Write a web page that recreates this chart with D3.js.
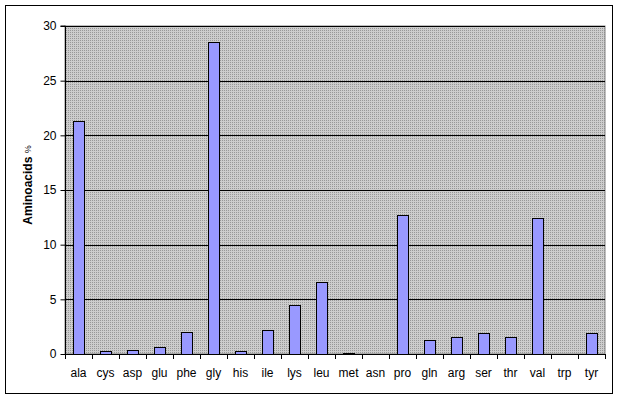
<!DOCTYPE html>
<html><head><meta charset="utf-8">
<script src="https://cdn.jsdelivr.net/npm/d3@7"></script>
<style>body{margin:0;background:#fff}svg{display:block}text{font-family:"Liberation Sans",Arial,sans-serif}</style>
</head><body>
<svg id="c" width="620" height="400"></svg>
<script>
const categories = ["ala","cys","asp","glu","phe","gly","his","ile","lys","leu","met","asn","pro","gln","arg","ser","thr","val","trp","tyr"];
const values = [21.3,0.3,0.4,0.65,2.0,28.5,0.3,2.2,4.5,6.6,0.1,0,12.7,1.3,1.55,1.95,1.55,12.45,0,1.95];
const yTicks = [0,5,10,15,20,25,30];
const yTitle = "Aminoacids %";

const svg = d3.select("#c");
const m = {l:65, t:26, r:605, b:354};
svg.append("rect").attr("x",5.5).attr("y",5.5).attr("width",607).attr("height",388)
  .attr("fill","#fff").attr("stroke","#000").attr("stroke-width",1);

const defs = svg.append("defs");
const pat = defs.append("pattern").attr("id","dots").attr("patternUnits","userSpaceOnUse")
  .attr("width",2).attr("height",2);
pat.append("rect").attr("width",2).attr("height",2).attr("fill","#cdcdcd");
pat.append("rect").attr("width",1).attr("height",1).attr("fill","#989898");

const x = d3.scaleBand().domain(categories).range([m.l,m.r]).paddingInner(0.6).paddingOuter(0.3);
const xb = d3.scaleBand().domain(categories).range([m.l,m.r]);
const y = d3.scaleLinear().domain([0,30]).range([m.b,m.t]);

svg.append("rect").attr("x",m.l).attr("y",m.t).attr("width",m.r-m.l).attr("height",m.b-m.t)
  .attr("fill","url(#dots)").attr("stroke","#808080").attr("stroke-width",1);

svg.append("g").selectAll("line").data(yTicks.filter(d=>d>0)).join("line")
  .attr("x1",m.l).attr("x2",m.r).attr("y1",d=>Math.round(y(d))+0.5).attr("y2",d=>Math.round(y(d))+0.5)
  .attr("stroke","#000").attr("stroke-width",1);

svg.append("g").selectAll("rect").data(categories).join("rect")
  .attr("x",(d)=>Math.round(xb(d)+xb.bandwidth()*0.3)+0.5)
  .attr("width",Math.round(xb.bandwidth()*0.4))
  .attr("y",(d,i)=>Math.round(y(values[i]))+0.5)
  .attr("height",(d,i)=>Math.max(0,Math.round(y(0))-Math.round(y(values[i]))))
  .attr("fill",(d,i)=>values[i]>0?"#9999ff":"none")
  .attr("stroke",(d,i)=>values[i]>0?"#000":"none").attr("stroke-width",1);

const ya = d3.axisLeft(y).tickValues(yTicks).tickSize(5).tickPadding(4).tickFormat(d3.format("d"));
const gy = svg.append("g").attr("transform",`translate(${m.l+0.5},0)`).call(ya);
gy.selectAll("text").attr("font-size",12).attr("fill","#000").attr("font-family","Liberation Sans, Arial, sans-serif");
gy.select(".domain").attr("stroke","#000").attr("d",`M-5,${m.t}H0V${m.b}`);

const xa = d3.axisBottom(xb).tickSize(0).tickPadding(14);
const gx = svg.append("g").attr("transform",`translate(0,${m.b+0.5})`).call(xa);
gx.select(".domain").attr("stroke","#000").attr("d",`M${m.l},0H${m.r}`);
gx.selectAll("text").attr("font-size",12).attr("fill","#000").attr("font-family","Liberation Sans, Arial, sans-serif");
svg.append("g").selectAll("line").data(d3.range(categories.length+1)).join("line")
  .attr("x1",i=>Math.round(m.l+i*xb.step())+0.5).attr("x2",i=>Math.round(m.l+i*xb.step())+0.5)
  .attr("y1",m.b).attr("y2",m.b+5).attr("stroke","#000");

const t = svg.append("text").attr("transform","translate(32,185) rotate(-90)")
  .attr("text-anchor","middle").attr("font-size",12).attr("font-weight","bold");
t.append("tspan").text("Aminoacids ");
t.append("tspan").attr("font-size",9).attr("font-weight","normal").attr("dy",-1).text("%");
</script>
</body></html>
